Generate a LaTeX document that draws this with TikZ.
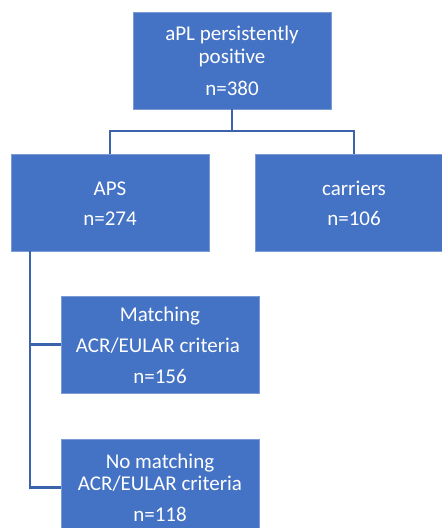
\documentclass[tikz,border=0pt]{standalone}
\usepackage{fontspec}
\setmainfont{Carlito}
\definecolor{boxblue}{HTML}{4472C4}
\definecolor{boxedge}{HTML}{7B9AD6}
\definecolor{lineblue}{HTML}{3B63AC}
\tikzset{
  box/.style={fill=boxblue, draw=boxedge, line width=0.7pt, minimum width=198pt, minimum height=97pt, inner sep=0pt, outer sep=0pt},
  txt/.style={text=white, font=\fontsize{21}{22}\selectfont, anchor=base, inner sep=0pt},
  conn/.style={draw=lineblue, line width=2.5pt}
}
\begin{document}
\begin{tikzpicture}[x=1pt,y=1pt]
\path[use as bounding box, clip] (0,0) rectangle (442,-528);
% boxes
\node[box] (top) at (232,-60.5) {};
\node[box] (aps) at (110,-202.5) {};
\node[box] (car) at (354,-202.5) {};
\node[box] (mat) at (160,-344.5) {};
\node[box] (nom) at (160,-487.5) {};
% connectors
\coordinate (split) at (232,-131);
\draw[conn] (top.south) -- (split);
\draw[conn] (aps.north) |- (split) -| (car.north);
\coordinate (apsfoot) at (30,-251);
\draw[conn] (apsfoot) |- (mat.west);
\draw[conn] (apsfoot) |- (nom.west);
% texts
\node[txt] (t1) at (232,-40.7) {aPL persistently};
\node[txt] (t2) at (232,-63.3) {positive};
\node[txt] (t3) at (232,-95) {n=380};
\node[txt] (a1) at (110,-195.7) {APS};
\node[txt] (a2) at (110,-225.7) {n=274};
\node[txt] (c1) at (354,-195.7) {carriers};
\node[txt] (c2) at (354,-225.7) {n=106};
\node[txt] (m1) at (160,-321) {Matching};
\node[txt] (m2) at (158,-352.3) {ACR/EULAR criteria};
\node[txt] (m3) at (160,-383.3) {n=156};
\node[txt] (n1) at (160,-468.3) {No matching};
\node[txt] (n2) at (160,-490.7) {ACR/EULAR criteria};
\node[txt] (n3) at (160,-521.7) {n=118};
\end{tikzpicture}
\end{document}
